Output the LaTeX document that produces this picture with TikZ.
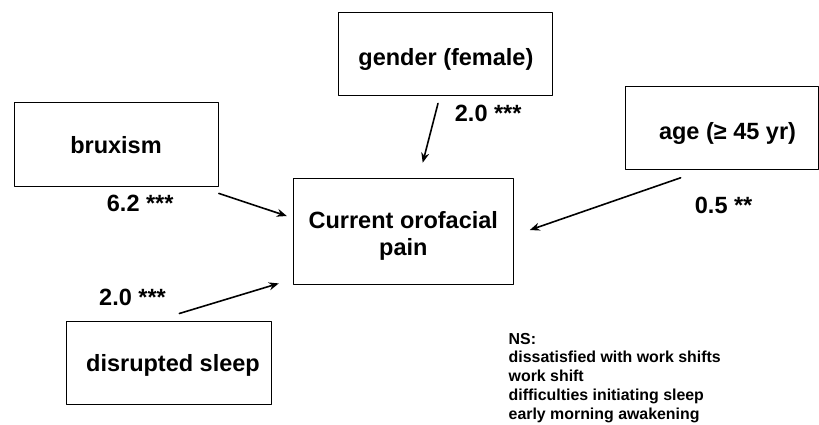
\documentclass[tikz,border=0pt]{standalone}
\usepackage{fontspec}
\setmainfont{Liberation Sans}
\usetikzlibrary{arrows.meta}
\tikzset{
  every picture/.style={line join=round, line cap=round, >={Stealth[length=10pt,width=8pt]}},
  factor/.style={draw, line width=1pt, inner sep=0pt, font=\bfseries\fontsize{23.5}{27}\selectfont},
  coef/.style={anchor=base west, inner sep=0pt, font=\bfseries\fontsize{23.5}{27}\selectfont},
  link/.style={->, line width=1.6pt},
}
\begin{document}
\begin{tikzpicture}[x=1pt,y=-1pt]
\useasboundingbox (0,0) rectangle (819,424);
\node[factor,minimum width=204pt,minimum height=84pt,text height=18.2pt,text depth=0pt] (brux) at (116,144.2) {bruxism\hspace{15pt}};
\node[factor,minimum width=214pt,minimum height=83pt,text height=22.6pt,text depth=0pt] (gender) at (445.9,53.7) {gender (female)\hspace{11pt}};
\node[factor,minimum width=220pt,minimum height=106pt,align=center,text height=47.6pt,text depth=0pt] (pain) at (403.3,231.2) {Current orofacial\\pain};
\node[factor,minimum width=192.5pt,minimum height=83.3pt,text height=22pt,text depth=0pt] (age) at (722.2,128.3) {\hspace{10.6pt}age (≥ 45 yr)};
\node[factor,minimum width=205pt,minimum height=82.6pt,text height=17.4pt,text depth=0pt] (sleep) at (169.2,363) {\hspace{7.6pt}disrupted sleep};
\node[coef] (cbrux) at (106.7,211.7) {6.2 ***};
\node[coef] (cgender) at (454.7,121.7) {2.0 ***};
\node[coef] (cage) at (694.7,213.3) {0.5 **};
\node[coef] (csleep) at (99,305) {2.0 ***};
\node[anchor=north west,inner sep=0pt,align=left,font=\bfseries\fontsize{15.9}{18.7}\selectfont] (ns) at (508.5,332.9)
  {NS:\\dissatisfied with work shifts\\work shift\\difficulties initiating sleep\\early morning awakening};
\draw[link] ([shift={(0.3,6.7)}]brux.south east) -- ([shift={(-6,-15.2)}]pain.west);
\draw[link] ([shift={(-7.9,7.7)}]gender.south) -- ([shift={(19.4,-15)}]pain.north);
\draw[link] ([shift={(-41.5,7.3)}]age.south) -- ([shift={(16,-1.2)}]pain.east);
\draw[link] ([shift={(10.1,-7.7)}]sleep.north) -- ([shift={(-14,-1.3)}]pain.south west);
\end{tikzpicture}
\end{document}
